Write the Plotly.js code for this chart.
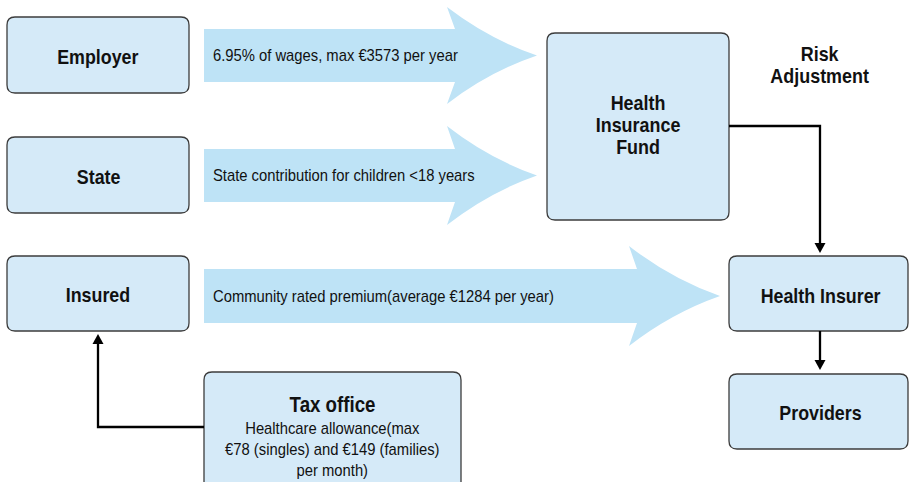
<!DOCTYPE html>
<html>
<head>
<meta charset="utf-8">
<script src="https://cdn.plot.ly/plotly-3.0.1.min.js"></script>
<style>html,body{margin:0;padding:0;background:#fff;}#chart{width:909px;height:482px;}</style>
</head>
<body>
<div id="chart"></div>
<script>
// ---- content ----
const payerNames = ["Employer", "State", "Insured"];
const flowLabels = [
  "6.95% of wages, max €3573 per year",
  "State contribution for children <18 years",
  "Community rated premium(average €1284 per year)"
];
const fundName = ["Health", "Insurance", "Fund"];
const insurerName = "Health Insurer";
const providerName = "Providers";
const riskLabel = ["Risk", "Adjustment"];
const taxTitle = "Tax office";
const taxNote = ["Healthcare allowance(max", "€78 (singles) and €149 (families)", "per month)"];

// ---- layout geometry (pixels) ----
const G = {
  payerBoxes: [[7,17,189,93],[7,137,189,213],[7,256,189,331]],
  fundBox: [547,33,729,220],
  insurerBox: [729,256,908,331],
  providerBox: [729,374,908,449],
  taxBox: [204,372,461,492],
  arrows: [
    {x0:204, xJ:455, xC:447, tip:537, yc:55.5, bh:26.5, hh:48.5},
    {x0:204, xJ:455, xC:447, tip:537, yc:175.5, bh:26.5, hh:49.5},
    {x0:204, xJ:637, xC:629, tip:720, yc:296, bh:27, hh:50}
  ]
};
const BOX_FILL = "#d5eaf8", BOX_LINE = "#3c3c3c", ARROW_FILL = "#bee3f6";
const FONT = "'Liberation Sans', Arial, sans-serif";

function rr(b, r) {
  const [x0,y0,x1,y1] = b;
  return `M${x0+r},${y0} L${x1-r},${y0} Q${x1},${y0} ${x1},${y0+r} L${x1},${y1-r} Q${x1},${y1} ${x1-r},${y1} ` +
         `L${x0+r},${y1} Q${x0},${y1} ${x0},${y1-r} L${x0},${y0+r} Q${x0},${y0} ${x0+r},${y0} Z`;
}
function bigArrow(a) {
  const top = a.yc - a.hh, bot = a.yc + a.hh;
  const mx = (a.xC + a.tip) / 2;
  return `M${a.x0},${a.yc-a.bh} L${a.xJ},${a.yc-a.bh} L${a.xC},${top} ` +
         `Q${mx-3},${(top+a.yc)/2+8} ${a.tip},${a.yc} ` +
         `Q${mx-3},${(bot+a.yc)/2-8} ${a.xC},${bot} L${a.xJ},${a.yc+a.bh} L${a.x0},${a.yc+a.bh} Z`;
}
function tri(x, yTip, dir) { // dir=+1 pointing down, -1 pointing up
  const yb = yTip - dir*10;
  return `M${x},${yTip} L${x-5.5},${yb} L${x+5.5},${yb} Z`;
}

const shapes = [];
G.arrows.forEach(a => shapes.push({type:"path", path:bigArrow(a), fillcolor:ARROW_FILL, line:{width:0}, layer:"below"}));
const boxStyle = {fillcolor:BOX_FILL, line:{color:BOX_LINE, width:1.3}};
G.payerBoxes.forEach(b => shapes.push(Object.assign({type:"path", path:rr(b,8)}, boxStyle)));
[G.fundBox, G.insurerBox, G.providerBox, G.taxBox].forEach(b => shapes.push(Object.assign({type:"path", path:rr(b,8)}, boxStyle)));
// connectors
const conn = {color:"#000", width:2.3};
shapes.push({type:"path", path:"M729,126 L820,126 L820,245", line:conn});
shapes.push({type:"path", path:tri(820,253,1), fillcolor:"#000", line:{width:0}});
shapes.push({type:"path", path:"M820,331 L820,362", line:conn});
shapes.push({type:"path", path:tri(820,370,1), fillcolor:"#000", line:{width:0}});
shapes.push({type:"path", path:"M204,427 L98,427 L98,342", line:conn});
shapes.push({type:"path", path:tri(98,334,-1), fillcolor:"#000", line:{width:0}});

const annotations = [];
const meta = [];
function label(x, y, lines, size, bold, squeeze, anchor, step) {
  const arr = Array.isArray(lines) ? lines : [lines];
  const txt = arr.map(t => bold ? "<b>" + t + "</b>" : t).join("<br>");
  annotations.push({x:x, y:y, xref:"x", yref:"y", text:txt, showarrow:false,
    xanchor: anchor || "center", yanchor:"middle", align: anchor === "left" ? "left" : "center",
    font:{family:FONT, size:size, color:"#111"}});
  meta.push({squeeze: squeeze, step: step || 0, left: anchor === "left"});
}

payerNames.forEach((n,i) => { const b = G.payerBoxes[i]; label((b[0]+b[2])/2, (b[1]+b[3])/2+1, n, 21, true, 0.85); });
flowLabels.forEach((t,i) => label(211, G.arrows[i].yc, t, 17, false, 0.87, "left"));
label((G.fundBox[0]+G.fundBox[2])/2, 125.5, fundName, 19.5, true, 0.92, null, 22);
label(820, 295, insurerName, 21, true, 0.85);
label(820, 412, providerName, 21, true, 0.85);
label(820, 64.5, riskLabel, 19.5, true, 0.92, null, 22);
label(332, 404, taxTitle, 22, true, 0.85);
label(332, 449, taxNote, 17, false, 0.87, null, 21);

const layout = {
  width:909, height:482, margin:{l:0,r:0,t:0,b:0},
  paper_bgcolor:"#fff", plot_bgcolor:"#fff",
  xaxis:{range:[0,909], visible:false, fixedrange:true},
  yaxis:{range:[482,0], visible:false, fixedrange:true},
  shapes:shapes, annotations:annotations, showlegend:false
};
Plotly.newPlot("chart", [], layout, {staticPlot:true, displayModeBar:false}).then(gd => {
  gd.querySelectorAll("g.annotation").forEach((g, i) => {
    const t = g.querySelector("text.annotation-text");
    if (!t) return;
    const m = meta[i];
    const bb0 = t.getBBox();
    let shiftY = 0;
    const tl = t.querySelectorAll("tspan.line");
    if (m.step && tl.length > 1) {
      // tighter leading, as in the reference (each line tspan carries its own offset)
      tl.forEach((sp, k) => sp.setAttribute("dy", (k * m.step) + "px"));
      const bb1 = t.getBBox();
      shiftY = (bb0.y + bb0.height / 2) - (bb1.y + bb1.height / 2);
    }
    const bb = t.getBBox();
    const ax = m.left ? bb.x : bb.x + bb.width / 2;
    t.setAttribute("transform", `translate(0,${shiftY}) translate(${ax},0) scale(${m.squeeze},1) translate(${-ax},0)`);
  });
});
</script>
</body>
</html>
